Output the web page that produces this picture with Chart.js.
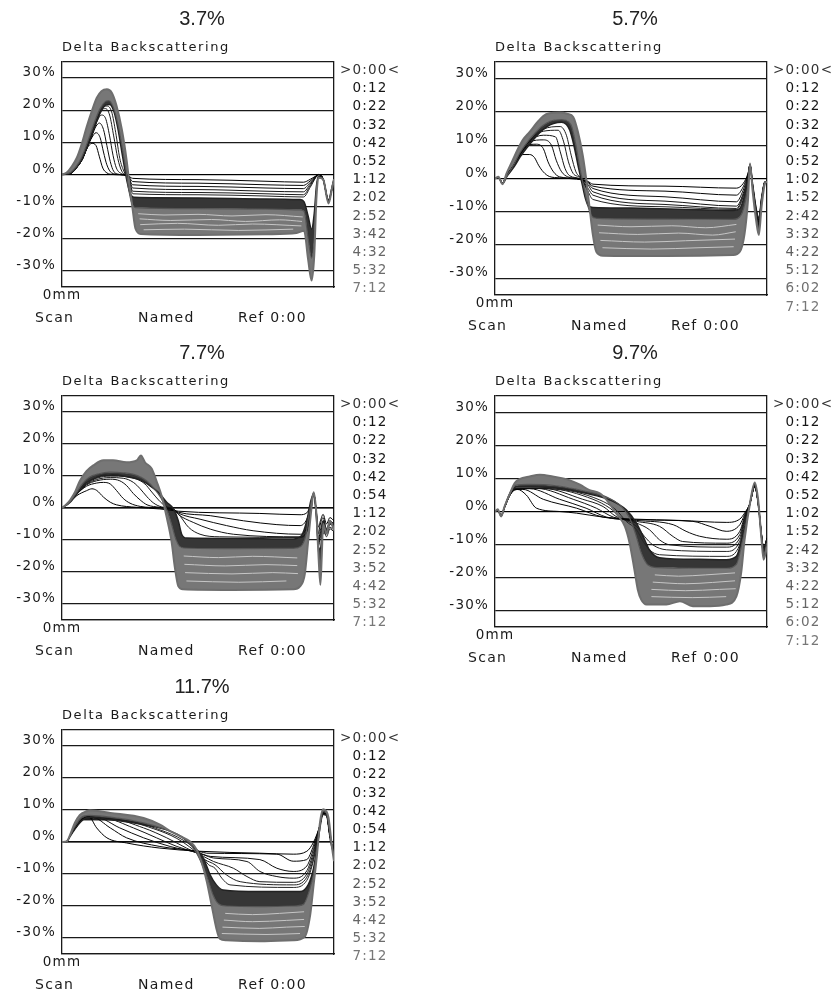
<!DOCTYPE html>
<html>
<head>
<meta charset="utf-8">
<script src="https://cdn.jsdelivr.net/npm/chart.js@4.4.1/dist/chart.umd.min.js"></script>
<style>
  html, body { margin: 0; padding: 0; background: #fff; overflow: hidden; }
  #wrap { position: relative; width: 833px; height: 992px; }
  #wrap canvas { position: absolute; }
</style>
</head>
<body>
<div id="wrap"></div>
<script>
// x = position in the cell (mm, 0..40), y = delta backscattering (%)
// each panel: early (top of dense band), mid, late (last scan), thin early scans (fans)
// and a few scans inside the lower band (streaks)

const yTicks = [-35, -30, -20, -10, 0, 10, 20, 30, 35];
const zeroScan = [[0, 0], [40, 0]];

// ---- 3.7% ----
const p37Times = ['>0:00<', '0:12', '0:22', '0:32', '0:42', '0:52', '1:12', '2:02', '2:52', '3:42', '4:32', '5:32', '7:12'];
const p37Late = [[0,0],[0.7,0.6],[1.4,2.4],[2.2,5.3],[2.9,9.5],[3.6,14.6],[4.4,19.8],[5.1,23.8],[5.8,25.9],[6.6,26.5],[7.3,25.5],[8.0,21.5],[8.8,14],[9.5,4.5],[10.0,-4.5],[10.4,-11],[10.8,-16.8],[11.6,-18.5],[20,-18.8],[30,-18.6],[34.5,-18.2],[35.6,-17.5],[36.2,-26.5],[36.7,-33],[37.1,-25],[37.4,-8],[37.7,-1],[38.4,-1.5],[39.2,-9],[39.7,-4.5],[40,-1.5]];
const p37Mid = [[0,0],[1.3,0.7],[2.1,2.5],[2.8,5],[3.5,8.6],[4.2,12.8],[4.9,17],[5.6,20.5],[6.3,22.6],[6.9,23],[7.5,21.2],[8.2,16],[8.9,8],[9.4,1.5],[9.8,-4.5],[10.2,-8.5],[10.8,-10.3],[20,-10.6],[30,-10.8],[35,-11],[35.6,-11.5],[36.2,-20],[36.7,-26],[37.1,-20],[37.4,-6],[37.7,-0.8],[38.4,-1.5],[39.2,-8.5],[39.7,-4],[40,-1.5]];
const p37Early = [[0,0],[1.4,0.6],[2.2,2.3],[2.9,4.6],[3.6,8],[4.3,12],[5.0,16],[5.7,19.5],[6.4,21.6],[7.0,21.8],[7.6,19.8],[8.2,14.5],[8.8,7],[9.2,2],[9.6,-2.5],[10.0,-5.8],[10.6,-7.1],[20,-7.3],[30,-7.6],[35,-7.8],[35.6,-8.5],[36.2,-13],[36.7,-17],[37.1,-12],[37.4,-4],[37.7,-0.5],[38.4,-1.5],[39.2,-8],[39.7,-4],[40,-1.5]];
const p37Fans = [
  [[0,0],[1.4,0.5],[2.2,2.3],[3.0,4.8],[3.7,8.2],[4.4,9.7],[5.0,9.0],[5.5,5.5],[6.0,2],[6.6,0.5],[7.5,0],[9.6,-0.3],[10.4,-1.2],[20,-1.6],[30,-2.1],[35.5,-2.4],[36.5,-1.5],[37.3,-0.5],[37.7,0],[38.4,-1.3],[39.2,-8],[39.7,-4.5],[40,-1.5]],
  [[0,0],[1.4,0.5],[2.2,2.3],[3.0,4.8],[3.7,8.4],[4.4,11.5],[5.0,13],[5.6,11.5],[6.1,7],[6.6,3],[7.3,0.5],[8.5,0],[9.7,-0.4],[10.4,-2.2],[20,-2.7],[30,-3.2],[35.5,-3.4],[36.5,-2],[37.3,-0.6],[37.7,0],[38.4,-1.3],[39.2,-8],[39.7,-4.5],[40,-1.5]],
  [[0,0],[1.4,0.5],[2.2,2.3],[3.0,4.8],[3.7,8.5],[4.4,12],[5.0,15],[5.5,16],[6.1,14],[6.6,9],[7.1,4],[7.6,1],[8.5,0],[9.7,-0.6],[10.4,-3.2],[20,-3.7],[30,-4.2],[35.5,-4.4],[36.5,-2.5],[37.3,-0.7],[37.7,0],[38.4,-1.4],[39.2,-8.2],[39.7,-4.5],[40,-1.5]],
  [[0,0],[1.4,0.5],[2.2,2.3],[3.0,4.8],[3.7,8.5],[4.4,12.2],[5.1,16.3],[5.8,18.5],[6.4,17.5],[7.0,12],[7.5,6],[8.0,2],[8.8,0.2],[9.8,-0.8],[10.4,-4.2],[20,-4.7],[30,-5.2],[35.5,-5.4],[36.5,-3],[37.3,-0.8],[37.7,0],[38.4,-1.4],[39.2,-8.3],[39.7,-4.5],[40,-1.5]],
  [[0,0],[1.4,0.5],[2.2,2.3],[3.0,4.8],[3.7,8.5],[4.4,12.3],[5.1,16.6],[5.8,20],[6.4,20.5],[7.0,18.5],[7.6,12],[8.2,5],[8.8,1],[9.8,-1],[10.4,-5.2],[20,-5.6],[30,-6],[35.5,-6.3],[36.5,-3.5],[37.3,-0.9],[37.7,0],[38.4,-1.5],[39.2,-8.4],[39.7,-4.5],[40,-1.5]],
  [[0,0],[1.4,0.5],[2.2,2.3],[3.0,4.8],[3.7,8.5],[4.4,12.4],[5.1,16.8],[5.8,20.3],[6.6,21.3],[7.3,19.5],[7.9,13],[8.5,5],[9.1,1],[9.9,-2],[10.4,-6],[20,-6.3],[30,-6.7],[35.5,-7],[36.5,-4],[37.3,-1],[37.7,0],[38.4,-1.5],[39.2,-8.5],[39.7,-4.5],[40,-1.5]]
];
const p37Streaks = [
  [[11.2,-12.2],[15,-12.6],[20,-12.4],[25,-12.9],[30,-12.5],[35.4,-13.2]],
  [[11.4,-13.8],[16,-14.3],[22,-14],[27,-14.6],[32,-14.1],[35.3,-14.6]],
  [[11.5,-15.6],[17,-15.2],[23,-15.8],[28,-15.4],[35.2,-16]],
  [[12,-17.2],[18,-17],[26,-17.4],[34,-17]]
];

// ---- 5.7% ----
const p57Times = ['>0:00<', '0:12', '0:22', '0:32', '0:42', '0:52', '1:02', '1:52', '2:42', '3:32', '4:22', '5:12', '6:02', '7:12'];
const p57Late = [[0,0],[0.5,0.5],[1.1,-1.7],[1.7,1.5],[2.6,5.5],[3.4,9],[4.1,11.6],[5.1,14],[6.1,16.6],[7.1,18.8],[8.0,19.6],[9.5,19.8],[10.7,19.4],[11.5,18.5],[12.2,14],[12.9,7],[13.4,0],[13.9,-8.6],[14.4,-17],[14.9,-22],[15.9,-23.2],[25,-23.3],[35,-23],[36,-22],[36.7,-16.6],[37.2,-6.5],[37.5,4.5],[37.9,-4],[38.4,-12.6],[38.8,-17],[39.2,-8.5],[39.7,-1.5],[40,-1]];
const p57Mid = [[0,0],[0.5,0.4],[1.1,-1.6],[1.8,0.9],[2.8,4.3],[3.7,7.8],[4.6,10.5],[5.6,13],[6.6,15.2],[7.6,16.7],[8.6,17.5],[9.8,17.7],[10.8,17.1],[11.3,15.5],[11.9,10],[12.5,3],[13.1,-3],[13.7,-8.5],[14.3,-11.5],[15,-12],[25,-12.2],[35,-12.3],[36,-11.5],[36.7,-8],[37.2,-2],[37.5,4.3],[37.9,-3],[38.4,-11],[38.8,-15],[39.2,-7],[39.7,-1.2],[40,-1]];
const p57Early = [[0,0],[0.5,0.3],[1.1,-1.5],[1.8,0.8],[2.8,3.5],[3.7,6.5],[4.6,9],[5.6,11.5],[6.6,13.8],[7.6,15.5],[8.6,16.5],[9.8,16.9],[10.5,16.2],[11.0,14.5],[11.6,10],[12.2,4],[12.8,-1.5],[13.3,-6],[13.8,-8.4],[14.5,-8.7],[20,-8.9],[30,-9.4],[35,-9.6],[36,-9],[36.7,-5],[37.2,0],[37.5,4],[37.9,-2],[38.4,-9],[38.8,-12],[39.2,-6],[39.7,-1],[40,-1]];
const p57Fans = [
  [[0,0],[0.5,0.3],[1.1,-1.2],[1.7,1],[2.6,3.5],[3.4,6],[4.1,7.2],[5.1,7.2],[5.8,6.3],[6.4,4],[7.1,2],[8.0,0.6],[9.5,0.2],[12,-0.2],[13.6,-0.8],[14.4,-1.7],[25,-2.3],[35.5,-2.9],[36.5,-1.5],[37.2,1.5],[37.5,4],[37.9,-2],[38.4,-9],[38.8,-12],[39.2,-6],[39.7,-1],[40,-1]],
  [[0,0],[0.5,0.3],[1.1,-1.2],[1.7,1],[2.6,3.5],[3.4,6.2],[4.1,8.4],[5.1,10.2],[6.1,10.3],[7.1,9],[7.8,5],[8.6,2],[9.5,0.5],[12,0],[13.6,-1],[14.4,-2.3],[25,-3.8],[35.5,-5],[36.5,-2.5],[37.2,1.3],[37.5,4],[37.9,-2],[38.4,-9.5],[38.8,-12.5],[39.2,-6],[39.7,-1],[40,-1]],
  [[0,0],[0.5,0.3],[1.1,-1.3],[1.7,1],[2.6,3.5],[3.4,6.3],[4.1,8.6],[5.1,11],[7.1,11.6],[8.3,10],[9.0,5.5],[9.8,2],[10.7,0.5],[12.5,-0.2],[13.7,-1.5],[14.4,-3],[25,-5.5],[35.5,-7],[36.5,-3.5],[37.2,1],[37.5,4.1],[37.9,-2.5],[38.4,-10],[38.8,-13],[39.2,-6.5],[39.7,-1],[40,-1]],
  [[0,0],[0.5,0.3],[1.1,-1.3],[1.7,1],[2.6,3.5],[3.4,6.3],[4.1,8.7],[5.1,11.3],[7.1,13],[8.9,12.5],[9.6,8],[10.3,3],[11.0,0.8],[12.5,0],[13.7,-2],[14.4,-4],[25,-6.8],[35.5,-8.3],[36.5,-4.5],[37.2,0.5],[37.5,4.2],[37.9,-2.5],[38.4,-10.5],[38.8,-13.5],[39.2,-6.5],[39.7,-1.1],[40,-1]],
  [[0,0],[0.5,0.3],[1.1,-1.4],[1.7,1],[2.6,3.5],[3.4,6.4],[4.1,8.8],[5.1,11.4],[7.1,14.2],[9.3,14.5],[10.1,11],[10.8,5],[11.5,1.5],[12.5,0.3],[13.7,-3],[14.4,-5],[25,-7.8],[35.5,-9],[36.5,-5],[37.2,0.3],[37.5,4.2],[37.9,-3],[38.4,-11],[38.8,-14],[39.2,-7],[39.7,-1.1],[40,-1]],
  [[0,0],[0.5,0.3],[1.1,-1.4],[1.7,1],[2.6,3.5],[3.4,6.4],[4.1,8.9],[5.1,11.5],[7.1,14.8],[9.6,15.6],[10.5,13],[11.2,7],[11.9,2],[12.7,0],[13.7,-4],[14.4,-6.3],[25,-8.5],[35.5,-9.3],[36.5,-5.5],[37.2,0.2],[37.5,4.3],[37.9,-3],[38.4,-11],[38.8,-14.5],[39.2,-7],[39.7,-1.2],[40,-1]]
];
const p57Streaks = [
  [[15.1,-14],[20,-14.5],[26,-14.2],[31,-14.8],[35.5,-13.8]],
  [[15.3,-16.3],[21,-16.8],[27,-16.4],[32,-17],[35.4,-16]],
  [[15.5,-18.6],[22,-19.1],[28,-18.7],[35.3,-18.2]],
  [[15.8,-20.8],[23,-21.2],[30,-20.8],[35.1,-20.5]]
];

// ---- 7.7% ----
const p77Times = ['>0:00<', '0:12', '0:22', '0:32', '0:42', '0:54', '1:12', '2:02', '2:52', '3:52', '4:42', '5:32', '7:12'];
const p77Late = [[0,0],[0.7,1.3],[1.2,2.5],[1.9,4.9],[2.6,8.4],[3.6,11.5],[4.6,13.3],[6.1,14.9],[7.5,14.9],[9.5,14.3],[11.0,14.9],[11.6,16.4],[12.2,14.3],[13.2,12.3],[13.9,8.4],[14.7,3.4],[15.4,-2.9],[16.1,-10.3],[16.6,-18.6],[17.1,-24.4],[17.8,-25.4],[25,-25.6],[34,-25.4],[35,-24.5],[35.7,-20.7],[36.2,-10.3],[36.7,0.2],[37.0,4.9],[37.4,-1.5],[37.7,-14],[38.0,-24],[38.2,-15],[38.4,-5],[38.9,-8],[39.4,-4],[40,-7]];
const p77Mid = [[0,0],[1.1,1.7],[2.0,4.4],[2.9,7.3],[4.0,9.6],[5.4,10.7],[7,11.2],[9,11],[11,10.2],[12.4,8.6],[13.6,6],[14.6,3],[15.4,-0.5],[16.1,-5],[16.7,-9.5],[17.3,-12],[18,-12.5],[25,-12.7],[34,-12.6],[35.1,-12],[35.8,-9],[36.4,-1],[37.0,4.7],[37.4,-2],[37.7,-13],[38.0,-19],[38.3,-8],[38.9,-8],[39.4,-4.5],[40,-6]];
const p77Early = [[0,0],[1.2,1.8],[2.2,4.4],[3.1,7],[4.6,9.1],[6.1,10.2],[7.5,10.4],[9.5,9.8],[11.5,8.8],[12.9,7],[14.4,4.4],[15.4,1.8],[16.4,-0.3],[17.1,-4],[17.6,-8.2],[18.3,-9.4],[25,-9.5],[34,-9.7],[35.2,-8.7],[36,-4],[36.6,2.3],[37.0,4.4],[37.4,-2.5],[37.7,-12],[38.0,-13],[38.4,-4],[38.9,-7],[39.4,-5],[40,-5]];
const p77Fans = [
  [[0,0],[1.2,2],[2.2,3.9],[3.6,5.4],[4.4,6],[5.1,5.5],[6.1,3.4],[7.1,1.8],[8.0,1.0],[11.0,0.2],[14.4,-0.3],[16.4,-0.8],[17.1,-1],[29.1,-1.7],[35.0,-2.1],[36.0,-1.5],[36.7,2],[37.0,4.5],[37.4,-1],[37.7,-6],[38.0,-4],[38.4,-2],[38.9,-5],[39.4,-3],[40,-4]],
  [[0,0],[1.2,2],[2.2,4.4],[3.6,6.8],[5.1,7.8],[6.1,8],[7.1,7.5],[8.0,5.5],[9.0,3],[10,1.5],[11.5,0.5],[14.4,0],[16.4,-0.6],[17.1,-1.3],[21.8,-2.4],[26.7,-4],[31.6,-5.2],[35.0,-5.5],[36.0,-3.5],[36.7,1.5],[37.0,4.5],[37.4,-1],[37.7,-8],[38.0,-5],[38.4,-3],[38.9,-6.5],[39.4,-4],[40,-5]],
  [[0,0],[1.2,2],[2.2,4.4],[3.6,7.2],[5.1,8.5],[7.1,9],[8.5,8.5],[9.5,7],[10.5,4.5],[11.5,2.5],[12.5,1],[14.4,0.2],[16.4,-0.5],[17.1,-1.6],[20.3,-3.5],[24.2,-5.5],[28.1,-7.1],[35.0,-8.2],[36.0,-6],[36.7,1],[37.0,4.6],[37.4,-1.5],[37.7,-10],[38.0,-7],[38.4,-4],[38.9,-7.5],[39.4,-5],[40,-6]],
  [[0,0],[1.2,2],[2.2,4.4],[3.6,7.4],[5.1,8.9],[7.1,9.5],[9.0,9.3],[10.5,8],[11.5,6],[12.5,3.5],[13.5,1.5],[14.7,0.3],[16.4,-0.4],[17.1,-2],[19.3,-4.5],[21.8,-6.6],[25.2,-8.2],[35.0,-9],[36.0,-7],[36.7,0.5],[37.0,4.6],[37.4,-1.5],[37.7,-11],[38.0,-8],[38.4,-5],[38.9,-8],[39.4,-6],[40,-7]],
  [[0,0],[1.2,2],[2.2,4.4],[3.6,7.6],[5.1,9.3],[7.1,10],[9.5,9.8],[11.0,9],[12.2,7.5],[13.2,5],[14.2,2.5],[15.2,0.6],[16.4,-0.3],[17.4,-2.6],[18.6,-6],[20.3,-8.2],[23.2,-9],[35.0,-9.2],[36.0,-7.5],[36.7,0.5],[37.0,4.6],[37.4,-2],[37.7,-12],[38.0,-9],[38.4,-6],[38.9,-9],[39.4,-6.5],[40,-7.5]]
];
const p77Streaks = [
  [[17.9,-15],[23,-15.5],[28,-15.1],[34.6,-15.6]],
  [[18,-17.6],[24,-18.1],[30,-17.7],[34.6,-18]],
  [[18.1,-20.2],[25,-20.6],[31,-20.2],[34.7,-20.5]],
  [[18.3,-22.8],[26,-23.2],[33,-22.8]]
];

// ---- 9.7% ----
const p97Times = ['>0:00<', '0:12', '0:22', '0:32', '0:42', '0:52', '1:02', '1:52', '2:42', '3:32', '4:22', '5:12', '6:02', '7:12'];
const p97Late = [[0,0],[0.4,0.7],[0.9,-1.5],[1.4,1.5],[2.2,5.5],[2.9,8.6],[3.6,9.8],[5.1,10.6],[6.6,11.1],[8.5,10.6],[10.5,9.8],[12.5,8.1],[13.9,6.5],[15.4,5.5],[16.4,3.5],[17.8,-0.5],[19.1,-4.5],[19.8,-9.6],[20.5,-17.6],[21.0,-23.7],[21.5,-26.7],[22.3,-28.2],[25.2,-28.2],[27.2,-27.2],[29.1,-28.7],[31.6,-28.7],[34.0,-28.2],[35.5,-25.7],[36.2,-18.6],[36.7,-8.6],[37.5,2.5],[38.2,8.8],[38.7,3.5],[39.2,-8.6],[39.5,-14.6],[40,-10.6]];
const p97Mid = [[0,0],[0.4,0.5],[0.9,-1.4],[1.4,1.4],[2.2,5.5],[3.0,7.9],[5,8.2],[9,7.8],[13,6.3],[16.5,4.3],[18.6,1.5],[19.8,-2],[20.7,-7],[21.5,-12.5],[22.5,-16.2],[24,-17],[30,-17.2],[34.0,-17.2],[35.5,-16],[36.4,-9],[37.5,2.5],[38.2,8.5],[38.7,3],[39.2,-8],[39.5,-13],[40,-9.5]];
const p97Early = [[0,0],[0.4,0.4],[0.9,-1.3],[1.4,1.3],[2.2,5.5],[3.1,7.4],[5.1,7.4],[9.5,7],[13.4,5.5],[16.9,3.5],[19.3,0.5],[20.8,-3.5],[21.8,-7.6],[22.7,-11.6],[24.2,-14],[30,-14.5],[34.0,-14.6],[35.5,-13.6],[36.5,-6.5],[37.5,2.5],[38.2,8.1],[38.7,2.5],[39.2,-7.6],[39.5,-11.6],[40,-8.6]];
const p97Fans = [
  [[0,0],[0.4,0.4],[0.9,-1.2],[1.4,1.2],[2.2,5],[2.9,6.5],[3.3,6.7],[4.6,5],[6.1,1.0],[9.5,0],[12.0,-0.5],[15.9,-1.7],[20.3,-2.3],[27.2,-2.7],[34.0,-3.3],[36.0,-2.3],[36.7,-0.5],[37.5,2.5],[38.2,7.5],[38.7,2.5],[39.2,-7],[39.5,-11],[40,-8]],
  [[0,0],[0.4,0.4],[0.9,-1.2],[1.4,1.2],[2.2,5],[2.9,6.6],[4.1,6.7],[7.1,3.7],[12.0,1.0],[15.9,-1.7],[20.8,-2.5],[29.1,-3.0],[31.6,-4.5],[34.0,-6],[36.0,-4],[36.7,-1],[37.5,2.5],[38.2,7.5],[38.7,2.5],[39.2,-7],[39.5,-11],[40,-8]],
  [[0,0],[0.4,0.4],[0.9,-1.2],[1.4,1.2],[2.2,5],[2.9,6.7],[5.1,6.9],[9.5,3.7],[13.4,1.0],[16.4,-1.7],[20.8,-2.7],[26.2,-4],[28.1,-6],[30.1,-7.5],[34.0,-8.4],[36.0,-6],[36.7,-1.5],[37.5,2.5],[38.2,7.6],[38.7,2.5],[39.2,-7.2],[39.5,-11.5],[40,-8.2]],
  [[0,0],[0.4,0.4],[0.9,-1.2],[1.4,1.2],[2.2,5],[2.9,6.8],[6.1,7.0],[11.5,3.7],[14.9,1.0],[17.4,-1.7],[20.8,-3],[24.2,-4.5],[26.2,-7.6],[27.6,-9.1],[34,-9.6],[36,-7],[36.7,-2],[37.5,2.5],[38.2,7.7],[38.7,2.5],[39.2,-7.3],[39.5,-12],[40,-8.3]],
  [[0,0],[0.4,0.4],[0.9,-1.2],[1.4,1.2],[2.2,5.1],[2.9,6.9],[7.1,7.0],[12.9,3.7],[15.9,1.5],[17.8,-1.5],[20.8,-3.5],[22.7,-5.5],[24.2,-8.6],[25.7,-10.1],[34,-10.8],[36,-8],[36.7,-2.5],[37.5,2.5],[38.2,7.8],[38.7,2.5],[39.2,-7.4],[39.5,-12.5],[40,-8.4]],
  [[0,0],[0.4,0.4],[0.9,-1.3],[1.4,1.2],[2.2,5.2],[2.9,7.0],[8.0,6.9],[14.4,3.7],[16.9,1.0],[18.6,-2],[20.8,-4.5],[22.0,-7.6],[23.2,-10.1],[25.2,-11.6],[34,-12.1],[36,-9],[36.7,-3],[37.5,2.5],[38.2,7.9],[38.7,2.5],[39.2,-7.5],[39.5,-13],[40,-8.5]],
  [[0,0],[0.4,0.4],[0.9,-1.3],[1.4,1.2],[2.2,5.3],[2.9,7.1],[8.5,6.9],[15.4,3.5],[17.8,0.5],[19.3,-3],[20.8,-5.5],[21.8,-9.1],[22.7,-11.6],[24.2,-13.1],[34,-13.6],[36,-10],[36.7,-3.5],[37.5,2.5],[38.2,8],[38.7,2.5],[39.2,-7.6],[39.5,-13.5],[40,-8.5]]
];
const p97Streaks = [
  [[23.5,-19.2],[27,-19.6],[31,-19.2],[35.3,-18.6]],
  [[23.2,-21.4],[28,-21.9],[32,-21.5],[35.3,-21]],
  [[23,-23.6],[28,-24],[33,-23.6],[35.4,-23.4]],
  [[23,-25.8],[29,-26.1],[34,-25.8]]
];

// ---- 11.7% ----
const p117Times = ['>0:00<', '0:12', '0:22', '0:32', '0:42', '0:54', '1:12', '2:02', '2:52', '3:52', '4:42', '5:32', '7:12'];
const p117Late = [[0,0],[0.7,0.2],[1.2,2.3],[1.9,6],[2.6,8.4],[3.6,9.6],[4.1,9.9],[7.1,9.1],[12.0,7.5],[14.4,5.4],[15.9,3.4],[17.4,1.8],[18.8,0.2],[19.8,-2.4],[20.5,-6.1],[21.3,-12.4],[22.0,-19.7],[22.7,-27],[23.2,-30.2],[24.2,-30.7],[29.1,-31],[34.0,-30.7],[35.7,-29.6],[36.5,-22.8],[37.0,-13.4],[37.5,-4],[37.9,5.4],[38.4,10.2],[38.9,9.5],[39.2,7.5],[39.7,-1.5],[40,-6]];
const p117Mid = [[0,0],[0.7,0.15],[1.2,2],[2,5.3],[2.8,7.6],[4.0,8.3],[7.1,7.8],[12.0,6.0],[15,4.1],[17.0,2.3],[18.6,0],[19.8,-3.5],[20.7,-7.5],[21.5,-12],[22.2,-16.5],[23.0,-19.3],[24.2,-20],[29.1,-20.2],[34,-20],[35.5,-19.5],[36.4,-15],[37.0,-10],[37.6,-1],[38.4,9.5],[38.9,9],[39.4,3],[40,-5]];
const p117Early = [[0,0],[0.7,0.1],[1.2,1.8],[2.2,4.9],[3.1,7],[4.1,7.7],[7.1,7.0],[12.0,5.4],[15.9,3.4],[17.8,1.3],[19.0,-1],[20.3,-3.5],[21.0,-6.1],[21.8,-10.3],[22.7,-13.4],[23.7,-15],[29.1,-15.5],[35.0,-15.5],[36.2,-13.4],[37.0,-8.2],[37.7,1.3],[38.4,8.6],[38.9,8.3],[39.5,0.2],[40,-4]];
const p117Fans = [
  [[0,0],[0.7,0.2],[1.2,2],[2.2,5],[3.1,7.2],[3.9,8.0],[5.1,4.4],[6.6,1.3],[9.5,-0.3],[14.4,-1.9],[20.3,-2.9],[29.1,-3.5],[34.0,-3.8],[36.0,-2.9],[37.0,0],[37.9,5],[38.4,9],[38.9,8.5],[39.4,2],[40,-4]],
  [[0,0],[0.7,0.2],[1.2,2],[2.2,5],[3.1,7.3],[4.4,7.8],[7.1,4.4],[9.5,1.3],[14.4,-1.4],[20.3,-3.0],[21.3,-3.5],[31.6,-3.8],[34.0,-6],[36.0,-5.5],[37.0,-1],[37.9,5],[38.4,9],[38.9,8.5],[39.4,2],[40,-4]],
  [[0,0],[0.7,0.2],[1.2,2],[2.2,5],[3.1,7.3],[5.1,7.6],[8.5,4.4],[12.0,1.3],[15.9,-1.4],[20.3,-3.5],[21.8,-4.5],[29.1,-5.5],[31.6,-8.2],[34.0,-9.2],[36.0,-7.5],[37,-2],[37.9,5],[38.4,9.1],[38.9,8.6],[39.4,2],[40,-4]],
  [[0,0],[0.7,0.2],[1.2,2],[2.2,5],[3.1,7.2],[6.1,7.4],[10.5,4.4],[13.9,1.3],[16.9,-1.4],[20.8,-4.0],[22.3,-5],[27.2,-6.1],[29.1,-9.2],[31.6,-10.8],[34.0,-11.3],[36,-9],[37,-3],[37.9,5],[38.4,9.2],[38.9,8.7],[39.4,2],[40,-4]],
  [[0,0],[0.7,0.2],[1.2,2],[2.2,5],[3.1,7.1],[7.1,7.2],[12.0,4.4],[15.4,1.3],[18.3,-1.9],[20.8,-4.5],[22.3,-6.1],[25.2,-8.2],[27.2,-10.8],[29.1,-12.4],[34.0,-12.6],[36,-10],[37,-4],[37.9,5],[38.4,9.3],[38.9,8.8],[39.4,2],[40,-4]],
  [[0,0],[0.7,0.2],[1.2,2],[2.2,5],[3.1,7.0],[8.0,7.0],[13.4,4.2],[16.9,1.1],[19.3,-2.4],[21.0,-5.5],[22.5,-7.1],[24.2,-10.3],[26.2,-12.4],[34.0,-13.4],[36,-11],[37,-5],[37.9,5],[38.4,9.4],[38.9,8.9],[39.4,2],[40,-4]],
  [[0,0],[0.7,0.2],[1.2,2],[2.2,5],[3.1,6.9],[9.5,6.6],[14.4,3.8],[17.8,0.6],[20.3,-3.5],[21.5,-7],[22.5,-8.2],[23.5,-11.3],[24.7,-13.4],[34.0,-14.2],[36,-12],[37,-5.5],[37.9,5],[38.4,9.5],[38.9,9],[39.4,2],[40,-4]]
];
const p117Streaks = [
  [[24,-22.3],[28,-22.7],[32,-22.3],[35.6,-21.8]],
  [[23.8,-24.4],[28,-24.9],[33,-24.5],[35.6,-24.2]],
  [[23.6,-26.6],[29,-27],[33,-26.6],[35.7,-26.4]],
  [[23.5,-28.6],[30,-28.9],[35,-28.6]]
];

const panels = [
  { title: '3.7%', times: p37Times, late: p37Late, mid: p37Mid, early: p37Early, fans: p37Fans, streaks: p37Streaks, left: 0, top: 0, h: 334, plotBottom: 287 },
  { title: '5.7%', times: p57Times, late: p57Late, mid: p57Mid, early: p57Early, fans: p57Fans, streaks: p57Streaks, left: 433, top: 0, h: 334, plotBottom: 295 },
  { title: '7.7%', times: p77Times, late: p77Late, mid: p77Mid, early: p77Early, fans: p77Fans, streaks: p77Streaks, left: 0, top: 334, h: 334, plotBottom: 286 },
  { title: '9.7%', times: p97Times, late: p97Late, mid: p97Mid, early: p97Early, fans: p97Fans, streaks: p97Streaks, left: 433, top: 334, h: 334, plotBottom: 293 },
  { title: '11.7%', times: p117Times, late: p117Late, mid: p117Mid, early: p117Early, fans: p117Fans, streaks: p117Streaks, left: 0, top: 668, h: 324, plotBottom: 286 }
];

const W = 400, PLOT_TOP = 62, LEFT_W = 62, RIGHT_W = 66, ROW = 18.2, FIRST = 8.5;
const AXIS_FONT = { family: 'DejaVu Sans', size: 13.5 };
const INK = '#1a1a1a';

// time label colours: black for the first scans, drifting to grey like the curves
const timeColors13 = ['#333', '#151515', '#151515', '#151515', '#151515', '#1a1a1a', '#262626', '#383838', '#555', '#5c5c5c', '#666', '#6c6c6c', '#777'];
const timeColors14 = ['#333', '#151515', '#151515', '#151515', '#151515', '#1a1a1a', '#222', '#303030', '#444', '#555', '#5e5e5e', '#666', '#6e6e6e', '#777'];
const fanColors = ['#000', '#050505', '#0c0c0c', '#131313', '#1a1a1a', '#202020', '#262626'];

// wide spacing of the instrument's screen font
const spacing = {
  id: 'spacing',
  beforeLayout(chart) { chart.ctx.letterSpacing = '1.2px'; },
  beforeDraw(chart) { chart.ctx.letterSpacing = '1.2px'; }
};

// panel heading, "Delta Backscattering" and the footer line
const panelText = {
  id: 'panelText',
  afterDraw(chart, args, o) {
    const { ctx, chartArea: a } = chart;
    ctx.save();
    ctx.textBaseline = 'middle';
    ctx.textAlign = 'center';
    ctx.letterSpacing = '0px';
    ctx.fillStyle = '#222';
    ctx.font = '20px "Liberation Sans"';
    ctx.fillText(o.title, a.left + 140, a.top - 43);

    ctx.textAlign = 'left';
    ctx.fillStyle = INK;
    ctx.letterSpacing = '1.6px';
    ctx.font = '13px "DejaVu Sans"';
    ctx.fillText('Delta Backscattering', a.left, a.top - 14);

    ctx.letterSpacing = '1.3px';
    ctx.font = '14px "DejaVu Sans"';
    ctx.fillText('Scan', a.left - 27, a.bottom + 31.5);
    ctx.fillText('Named', a.left + 76, a.bottom + 31.5);
    ctx.fillText('Ref 0:00', a.left + 176, a.bottom + 31.5);
    ctx.restore();
  }
};

function curve(pts, color, width, extra) {
  return Object.assign({
    data: pts.map(([x, y]) => ({ x, y })),
    borderColor: color,
    borderWidth: width,
    pointRadius: 0,
    fill: false,
    cubicInterpolationMode: 'monotone'
  }, extra || {});
}

const wrap = document.getElementById('wrap');

panels.forEach(p => {
  const canvas = document.createElement('canvas');
  canvas.width = W;
  canvas.height = p.h;
  canvas.style.left = p.left + 'px';
  canvas.style.top = p.top + 'px';
  wrap.appendChild(canvas);

  const plotH = p.plotBottom - PLOT_TOP;
  const tMin = -FIRST / ROW;
  const tColors = p.times.length === 14 ? timeColors14 : timeColors13;

  // first dataset is drawn on top; fills go under every line
  const datasets = [
    ...p.streaks.map(s => curve(s, '#c6c6c6', 1)),
    curve(p.late, '#6e6e6e', 2, { fill: '+1', backgroundColor: '#777' }),
    curve(p.mid, '#555', 1.2, { fill: '+1', backgroundColor: '#363636' }),
    curve(p.early, '#222', 1.5),
    ...p.fans.map((f, i) => curve(f, fanColors[i], 1)),
    curve(zeroScan, '#000', 1.2)
  ];

  new Chart(canvas.getContext('2d'), {
    type: 'line',
    data: { datasets },
    options: {
      responsive: false,
      animation: false,
      layout: { padding: { top: PLOT_TOP, left: 0, right: 0, bottom: 0 } },
      plugins: {
        legend: { display: false },
        tooltip: { enabled: false },
        filler: { propagate: false, drawTime: 'beforeDatasetsDraw' },
        panelText: { title: p.title }
      },
      scales: {
        x: {
          type: 'linear', min: 0, max: 40,
          afterBuildTicks: s => { s.ticks = [{ value: 0 }]; },
          afterFit: s => { s.height = p.h - p.plotBottom; },
          grid: { display: false, drawTicks: false },
          border: { display: true, color: INK, width: 1.3 },
          ticks: { padding: 0, maxRotation: 0, autoSkip: false, font: AXIS_FONT, color: INK, callback: () => '0mm' }
        },
        y: {
          type: 'linear', min: -35, max: 35,
          afterBuildTicks: s => { s.ticks = yTicks.map(v => ({ value: v })); },
          afterFit: s => { s.width = LEFT_W; },
          grid: { color: INK, lineWidth: 1.3, drawTicks: false },
          border: { display: true, color: INK, width: 1.3 },
          ticks: { padding: 6, labelOffset: -5.5, autoSkip: false, font: AXIS_FONT, color: INK,
                   callback: v => (Math.abs(v) === 35 ? '' : v + '%') }
        },
        times: {
          type: 'linear', position: 'right', reverse: true,
          min: tMin, max: tMin + plotH / ROW,
          afterBuildTicks: s => { s.ticks = p.times.map((t, i) => ({ value: i })); },
          afterFit: s => { s.width = RIGHT_W; },
          grid: { display: false, drawTicks: false },
          border: { display: true, color: INK, width: 1.3 },
          ticks: { padding: 6, crossAlign: 'center', autoSkip: false, font: AXIS_FONT,
                   color: c => tColors[c.index], callback: (v, i) => p.times[i] }
        }
      }
    },
    plugins: [spacing, panelText]
  });
});
</script>
</body>
</html>
